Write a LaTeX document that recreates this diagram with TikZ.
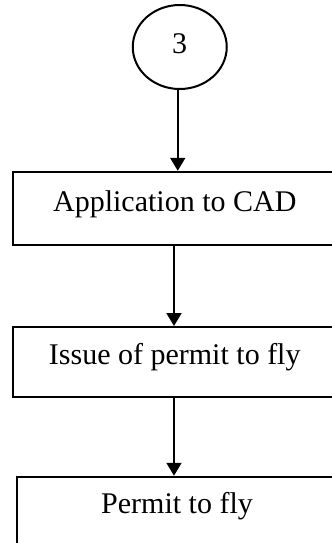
\documentclass[tikz,border=0pt]{standalone}
\usepackage{fontspec}
\setmainfont{Liberation Serif}
\usetikzlibrary{arrows.meta,shapes.geometric}

\begin{document}
\begin{tikzpicture}[x=1pt, y=1pt, line width=0.8pt, font=\fontsize{12}{14}\selectfont,
  stepbox/.style={rectangle, draw, minimum height=29.4pt, inner sep=0pt, text height=9pt},
  flow/.style={-{Triangle[length=5.2pt,width=6pt]}}]

\useasboundingbox (0,0) rectangle (132.8,-217.2);

% Conector de pagina
\node[ellipse, draw, minimum width=37.6pt, minimum height=33.6pt, inner sep=0pt, text height=8pt, text depth=3.2pt] at (71.9,-18.8) (Conn) {3};

% Cajas del proceso
\node[stepbox, minimum width=129.4pt, text depth=7pt] at (69.9,-83.4) (App) {Application to CAD};

\node[stepbox, minimum width=129.4pt, minimum height=28pt, text depth=7.4pt] at (69.9,-144.8) (Issue) {Issue of permit to fly};

\node[stepbox, minimum width=128pt, text depth=9.4pt] at (70.8,-205.4) (Permit) {Permit to fly};

% Flechas
\draw[flow] ([xshift=-0.8pt]Conn.south) -- ([xshift=-0.8pt]Conn.south |- App.north);
\draw[flow] ([xshift=-0.3pt]App.south) -- ([xshift=-0.3pt]App.south |- Issue.north);
\draw[flow] ([xshift=-0.3pt]App.south |- Issue.south) -- ([xshift=-0.3pt]App.south |- Permit.north);

\end{tikzpicture}
\end{document}
